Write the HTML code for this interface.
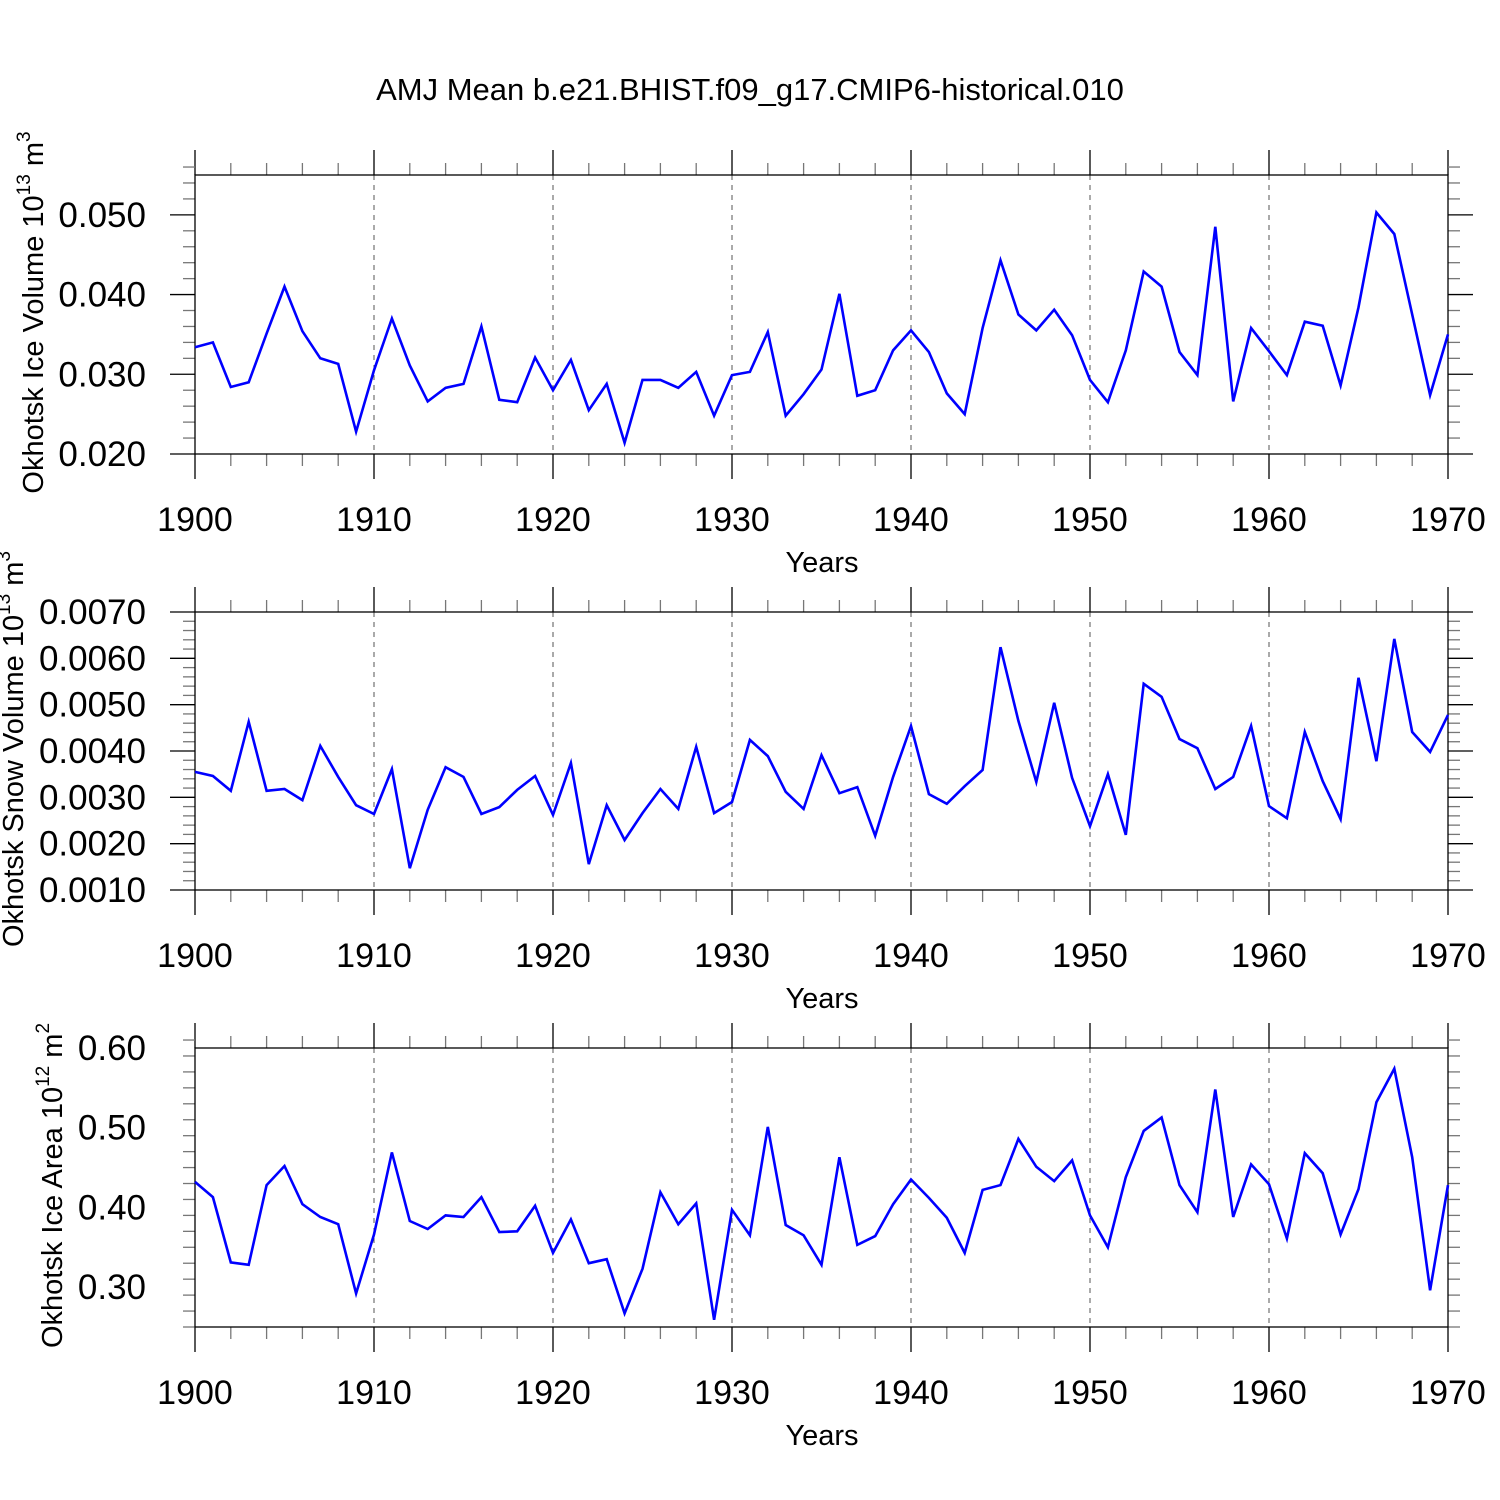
<!DOCTYPE html>
<html><head><meta charset="utf-8"><style>
html,body{margin:0;padding:0;background:#fff;width:1500px;height:1500px;overflow:hidden}
svg text{font-family:"Liberation Sans",sans-serif;fill:#000}
</style></head><body>
<svg id="chart" width="1500" height="1500" viewBox="0 0 1500 1500" xmlns="http://www.w3.org/2000/svg">
<rect width="1500" height="1500" fill="#fff"/>
<text x="750" y="100" font-size="31" text-anchor="middle">AMJ Mean b.e21.BHIST.f09_g17.CMIP6-historical.010</text>
</svg>
<script>
const years = [];
for (let y = 1900; y <= 1970; y++) years.push(y);
const xTickLabels = ["1900","1910","1920","1930","1940","1950","1960","1970"];
const iceVolume = [0.0334,0.0340,0.0284,0.0290,0.0351,0.0410,0.0354,0.0320,0.0313,0.0228,
0.0305,0.0370,0.0311,0.0266,0.0283,0.0288,0.0360,0.0268,0.0265,0.0321,
0.0280,0.0318,0.0255,0.0288,0.0214,0.0293,0.0293,0.0283,0.0303,0.0248,
0.0299,0.0303,0.0353,0.0248,0.0275,0.0306,0.0401,0.0273,0.0280,0.0330,
0.0355,0.0328,0.0276,0.0250,0.0358,0.0443,0.0375,0.0355,0.0381,0.0349,
0.0293,0.0265,0.0330,0.0429,0.0410,0.0328,0.0299,0.0485,0.0266,0.0358,
0.0329,0.0299,0.0366,0.0361,0.0286,0.0384,0.0503,0.0476,0.0375,0.0274,0.0350];
const snowVolume = [0.00355,0.00346,0.00314,0.00463,0.00314,0.00318,0.00294,0.00411,0.00344,0.00283,
0.00264,0.00361,0.00147,0.00273,0.00365,0.00344,0.00264,0.00279,0.00316,0.00346,
0.00262,0.00374,0.00156,0.00283,0.00208,0.00266,0.00318,0.00275,0.00409,0.00266,
0.00290,0.00424,0.00389,0.00312,0.00275,0.00391,0.00309,0.00322,0.00217,0.00344,
0.00454,0.00307,0.00286,0.00324,0.00359,0.00624,0.00465,0.00333,0.00504,0.00342,
0.00238,0.00350,0.00219,0.00545,0.00517,0.00426,0.00406,0.00318,0.00344,0.00454,
0.00281,0.00255,0.00441,0.00335,0.00253,0.00558,0.00378,0.00642,0.00441,0.00398,0.00478];
const iceArea = [0.432,0.413,0.331,0.328,0.428,0.452,0.404,0.388,0.379,0.292,
0.366,0.469,0.383,0.373,0.390,0.388,0.413,0.369,0.370,0.402,
0.343,0.385,0.330,0.335,0.267,0.323,0.419,0.379,0.405,0.259,
0.397,0.365,0.501,0.378,0.365,0.328,0.463,0.353,0.364,0.404,
0.435,0.412,0.387,0.343,0.422,0.428,0.486,0.451,0.433,0.459,
0.390,0.350,0.438,0.496,0.513,0.428,0.394,0.548,0.388,0.454,
0.429,0.361,0.468,0.443,0.366,0.423,0.532,0.574,0.463,0.296,0.428];
const iceVolTicks = ["0.020","0.030","0.040","0.050"];
const snowTicks = ["0.0010","0.0020","0.0030","0.0040","0.0050","0.0060","0.0070"];
const areaTicks = ["0.30","0.40","0.50","0.60"];

const svg = document.getElementById('chart');
const NS = 'http://www.w3.org/2000/svg';
const X0 = 195, X1 = 1448;
function xs(yr){ return X0 + (yr-1900)/70*(X1-X0); }
function mk(tag, attrs, parent){
  const e = document.createElementNS(NS, tag);
  for (const k in attrs) e.setAttribute(k, attrs[k]);
  (parent||svg).appendChild(e); return e;
}
function panel(name, top, bottom, vmin, vmax, minorStep, ticks, data, label, sup, unitSup, labelX){
  const g = mk('g', {});
  
  
  const ys = v => bottom - (v - vmin)/(vmax - vmin)*(bottom - top);
  for (let yr = 1910; yr <= 1960; yr += 10) {
    const l = mk('line', {x1:xs(yr),x2:xs(yr),y1:top,y2:bottom,stroke:'#555','stroke-width':1,'stroke-dasharray':'5,5'}, g);
    
    
  }
  for (let yr = 1900; yr <= 1970; yr += 2) {
    const major = (yr % 10 === 0);
    const len = major ? 25 : 12;
    const c = major ? '#000' : '#777';
    mk('line', {x1:xs(yr),x2:xs(yr),y1:top,y2:top-len,stroke:c,'stroke-width':1.3}, g);
    mk('line', {x1:xs(yr),x2:xs(yr),y1:bottom,y2:bottom+len,stroke:c,'stroke-width':1.3}, g);
  }
  xTickLabels.forEach(t => {
    const tx = mk('text', {x:xs(+t), y:bottom+77, 'font-size':34, 'text-anchor':'middle'}, g);
    
    
    tx.textContent = t;
  });
  const xt = mk('text', {x:822, y:bottom+118, 'font-size':29, 'text-anchor':'middle'}, g);
  
  
  xt.textContent = 'Years';
  const majors = ticks.map(Number);
  const nMinor = Math.round((vmax - vmin)/minorStep);
  for (let i = 0; i <= nMinor; i++) {
    const v = vmin + i*minorStep;
    const isMajor = majors.some(m => Math.abs(m - v) < minorStep/10);
    const len = isMajor ? 25 : 12;
    const c = isMajor ? '#000' : '#777';
    const y = ys(v);
    mk('line', {x1:X0, x2:X0-len, y1:y, y2:y, stroke:c, 'stroke-width':1.3}, g);
    mk('line', {x1:X1, x2:X1+len, y1:y, y2:y, stroke:c, 'stroke-width':1.3}, g);
  }
  ticks.forEach(t => {
    const tx = mk('text', {x:146, y:ys(+t)+12, 'font-size':35, 'text-anchor':'end'}, g);
    
    
    tx.textContent = t;
  });
  const cy = (top+bottom)/2 - 2;
  const yt = mk('text', {x:labelX, y:cy, 'font-size':29, 'text-anchor':'middle',
    transform:`rotate(-90 ${labelX} ${cy})`}, g);
  
  
  yt.innerHTML = label + ' 10<tspan dy="-13" font-size="19">' + sup + '</tspan><tspan dy="13"> m</tspan><tspan dy="-13" font-size="19">' + unitSup + '</tspan>';
  const fr = mk('rect', {x:X0, y:top, width:X1-X0, height:bottom-top, fill:'none', stroke:'#000', 'stroke-width':1.3}, g);
  
  
  const pts = data.map((v,i) => xs(years[i]).toFixed(1) + ',' + ys(v).toFixed(1)).join(' ');
  const pl = mk('polyline', {points:pts, fill:'none', stroke:'#0000ff', 'stroke-width':2.6, 'stroke-linejoin':'miter'}, g);
  
  
}
panel('ice-volume', 175, 454, 0.020, 0.055, 0.002, iceVolTicks, iceVolume, 'Okhotsk Ice Volume', '13', '3', 43);
panel('snow-volume', 612, 890, 0.001, 0.007, 0.0002, snowTicks, snowVolume, 'Okhotsk Snow Volume', '13', '3', 23);
panel('ice-area', 1048, 1327, 0.25, 0.60, 0.02, areaTicks, iceArea, 'Okhotsk Ice Area', '12', '2', 62);
</script>
</body></html>
